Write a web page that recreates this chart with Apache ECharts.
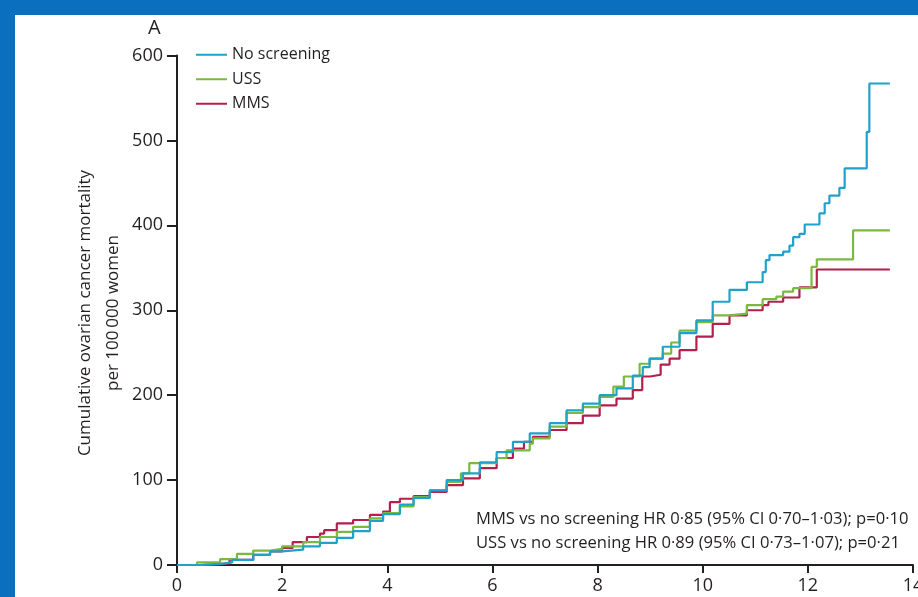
<!DOCTYPE html>
<html>
<head>
<meta charset="utf-8">
<script src="https://cdn.jsdelivr.net/npm/echarts@6/dist/echarts.min.js"></script>
<style>
  html, body { margin: 0; padding: 0; background: #0a6fbf; width: 918px; height: 597px; overflow: hidden; }
  #chart { position: absolute; left: 15px; top: 15px; width: 903px; height: 582px; background: #ffffff; }
</style>
</head>
<body>
<div id="chart"></div>
<script>
// Cumulative ovarian cancer mortality (per 100 000 women) by years since randomisation.
// Each curve is a step function: [time, cumulative value after the event at that time].
const seriesNames = ['No screening', 'USS', 'MMS'];
const seriesColors = ['#1fa2c9', '#7ab940', '#b41f4b'];

const noScreeningT = [0, 0.44, 0.8, 1.05, 1.45, 1.77, 2.0, 2.4, 2.72, 3.04, 3.35, 3.67, 3.92, 4.24, 4.5, 4.81, 5.13, 5.44, 5.76, 6.08, 6.39, 6.71, 7.09, 7.41, 7.72, 8.04, 8.36, 8.67, 8.86, 8.99, 9.24, 9.56, 9.88, 10.19, 10.51, 10.84, 11.14, 11.2, 11.27, 11.53, 11.65, 11.72, 11.84, 11.94, 12.22, 12.32, 12.41, 12.6, 12.7, 13.12, 13.17, 13.56];
const noScreeningV = [0, 1, 3, 6, 12, 16, 18, 22, 26, 32, 40, 52, 60, 71, 79, 88, 100, 108, 121, 133, 145, 155, 167, 182, 190, 200, 208, 223, 233, 243, 257, 273, 288, 310, 324, 333, 345, 359, 365, 369, 376, 386, 390, 401, 414, 426, 435, 444, 467, 510, 567, 567];

const ussT = [0, 0.38, 0.82, 1.14, 1.45, 1.77, 2.0, 2.4, 2.72, 3.04, 3.35, 3.67, 3.92, 4.24, 4.5, 4.81, 5.13, 5.4, 5.56, 6.08, 6.27, 6.71, 6.77, 7.09, 7.41, 7.72, 8.04, 8.3, 8.5, 8.8, 8.99, 9.24, 9.4, 9.56, 9.88, 10.19, 10.51, 10.84, 11.14, 11.4, 11.53, 11.72, 12.07, 12.17, 12.86, 13.56];
const ussV = [0, 3, 7, 13, 17, 19, 22, 27, 33, 39, 45, 55, 61, 69, 80, 88, 98, 108, 120, 126, 135, 143, 149, 163, 179, 186, 198, 210, 222, 237, 243, 249, 262, 276, 286, 294, 296, 306, 313, 316, 322, 326, 351, 360, 394, 394];

const mmsT = [0, 0.44, 1.0, 1.45, 1.77, 2.0, 2.2, 2.47, 2.72, 2.8, 3.04, 3.35, 3.67, 3.92, 4.05, 4.24, 4.5, 4.81, 5.13, 5.44, 5.76, 6.08, 6.39, 6.6, 6.77, 7.09, 7.41, 7.72, 8.04, 8.36, 8.67, 8.85, 9.0, 9.2, 9.37, 9.56, 9.88, 10.19, 10.51, 10.84, 11.14, 11.25, 11.53, 11.84, 12.17, 13.56];
const mmsV = [0, 2, 6, 12, 16, 20, 27, 33, 37, 41, 49, 53, 59, 63, 74, 78, 81, 86, 94, 102, 114, 126, 137, 145, 151, 159, 167, 176, 188, 196, 206, 222, 224, 236, 243, 253, 269, 284, 294, 300, 306, 310, 315, 327, 348, 348];

const xTicks = { min: 0, max: 14, interval: 2 };
const yTicks = { min: 0, max: 600, interval: 100 };

const panelLetter = 'A';
const yTitleLines = ['Cumulative ovarian cancer mortality', 'per 100\u2009000 women'];
const hrLines = [
  'MMS vs no screening HR 0\u00b785 (95% CI 0\u00b770\u20131\u00b703); p=0\u00b710',
  'USS vs no screening HR 0\u00b789 (95% CI 0\u00b773\u20131\u00b707); p=0\u00b721'
];

const pairs = (t, v) => t.map((x, i) => [x, v[i]]);
const curves = [pairs(noScreeningT, noScreeningV), pairs(ussT, ussV), pairs(mmsT, mmsV)];

const FONT = "'Open Sans', 'Liberation Sans', sans-serif";
const INK = '#231f20';

const chart = echarts.init(document.getElementById('chart'), null, { renderer: 'canvas' });

chart.setOption({
  animation: false,
  backgroundColor: '#ffffff',
  textStyle: { fontFamily: FONT, color: INK },
  grid: { left: 162, right: 5, top: 40.5, bottom: 32, containLabel: false, outerBoundsMode: 'none' },
  legend: {
    orient: 'vertical',
    left: 181,
    top: 31,
    padding: 0,
    icon: 'rect',
    itemWidth: 31,
    itemHeight: 2,
    itemGap: 7,
    data: seriesNames,
    textStyle: { fontFamily: FONT, fontSize: 16, color: INK, lineHeight: 17.5 }
  },
  xAxis: {
    type: 'value',
    min: xTicks.min,
    max: xTicks.max,
    interval: xTicks.interval,
    splitLine: { show: false },
    axisLine: { show: true, onZero: false, lineStyle: { color: INK, width: 2 } },
    axisTick: { show: true, length: 8, lineStyle: { color: INK, width: 2 } },
    axisLabel: { margin: 12, fontSize: 18, color: INK, fontFamily: FONT, showMaxLabel: true }
  },
  yAxis: {
    type: 'value',
    min: yTicks.min,
    max: yTicks.max,
    interval: yTicks.interval,
    splitLine: { show: false },
    axisLine: { show: true, lineStyle: { color: INK, width: 2 } },
    axisTick: { show: true, length: 10, lineStyle: { color: INK, width: 2 } },
    axisLabel: { margin: 14, fontSize: 18, color: INK, fontFamily: FONT }
  },
  graphic: [
    {
      type: 'text', left: 133, top: 3,
      style: { text: panelLetter, font: "500 20px " + FONT, fill: INK }
    },
    {
      type: 'text', x: 84, y: 298, rotation: Math.PI / 2,
      style: {
        text: yTitleLines.join('\n'), font: "17px " + FONT, fill: INK,
        align: 'center', verticalAlign: 'middle', lineHeight: 28
      }
    },
    {
      type: 'text', left: 461, top: 493,
      style: { text: hrLines.join('\n'), font: "16.6px " + FONT, fill: INK, lineHeight: 23.5 }
    }
  ],
  series: curves.map((data, i) => ({
    name: seriesNames[i],
    type: 'line',
    step: 'end',
    data: data,
    showSymbol: false,
    symbol: 'none',
    color: seriesColors[i],
    lineStyle: { width: 2.2, color: seriesColors[i] },
    z: 3 - i
  }))
});
</script>
</body>
</html>
